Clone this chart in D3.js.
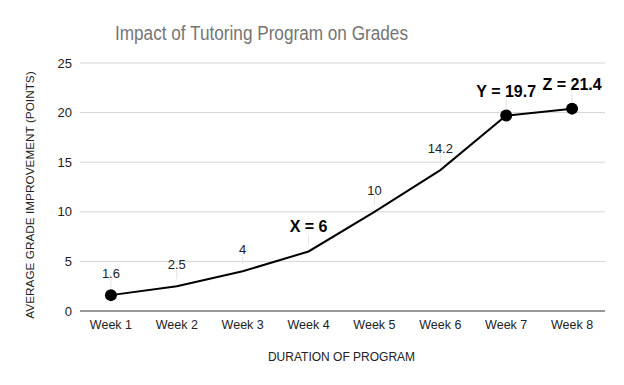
<!DOCTYPE html>
<html>
<head>
    <script src="https://d3js.org/d3.v7.min.js"></script>
    <style>
        body { margin: 0; background: #fff; }
        text { font-family: "Liberation Sans", Arial, sans-serif; }
    </style>
</head>
<body>
    <div id="chart"></div>
    <script>
        const weeks = ["Week 1", "Week 2", "Week 3", "Week 4", "Week 5", "Week 6", "Week 7", "Week 8"];
        const improvement = [1.6, 2.5, 4, 6, 10, 14.2, 19.7, 20.4];
        const pointLabels = ["1.6", "2.5", "4", "X = 6", "10", "14.2", "Y = 19.7", "Z = 21.4"];
        const boldLabel = [false, false, false, true, false, false, true, true];
        const dotted = [true, false, false, false, false, false, true, true];
        const yTicks = [0, 5, 10, 15, 20, 25];

        const width = 624, height = 385;
        const margin = { top: 63, right: 19, bottom: 74, left: 78 };

        const svg = d3.select("#chart").append("svg")
            .attr("width", width)
            .attr("height", height);

        const x = d3.scalePoint()
            .domain(weeks)
            .range([margin.left, width - margin.right])
            .padding(0.5);

        const y = d3.scaleLinear()
            .domain([0, 25])
            .range([height - margin.bottom, margin.top]);

        // grid lines
        svg.append("g")
            .selectAll("line")
            .data(yTicks.filter(d => d > 0))
            .join("line")
            .attr("x1", margin.left + 2)
            .attr("x2", width - margin.right)
            .attr("y1", d => y(d))
            .attr("y2", d => y(d))
            .attr("stroke", "#d4d4d4")
            .attr("stroke-width", 1);

        // baseline
        svg.append("line")
            .attr("x1", margin.left + 2)
            .attr("x2", width - margin.right)
            .attr("y1", y(0))
            .attr("y2", y(0))
            .attr("stroke", "#333")
            .attr("stroke-width", 1);

        // y tick labels
        svg.append("g")
            .selectAll("text")
            .data(yTicks)
            .join("text")
            .attr("x", margin.left - 6)
            .attr("y", d => y(d))
            .attr("dy", "0.35em")
            .attr("text-anchor", "end")
            .attr("font-size", 13)
            .attr("fill", "#222")
            .text(d => d);

        // x tick labels
        svg.append("g")
            .selectAll("text")
            .data(weeks)
            .join("text")
            .attr("x", d => x(d))
            .attr("y", y(0) + 18)
            .attr("text-anchor", "middle")
            .attr("font-size", 12.5)
            .attr("fill", "#222")
            .text(d => d);

        // title (rendered a bit narrow in the original)
        svg.append("text")
            .attr("x", 261.5)
            .attr("y", 40)
            .attr("text-anchor", "middle")
            .attr("font-size", 20)
            .attr("textLength", 293)
            .attr("lengthAdjust", "spacingAndGlyphs")
            .attr("fill", "#757575")
            .text("Impact of Tutoring Program on Grades");

        // axis titles
        svg.append("text")
            .attr("x", (margin.left + width - margin.right) / 2)
            .attr("y", 361)
            .attr("text-anchor", "middle")
            .attr("font-size", 12)
            .attr("fill", "#222")
            .text("DURATION OF PROGRAM");

        svg.append("text")
            .attr("transform", "translate(34,195) rotate(-90)")
            .attr("text-anchor", "middle")
            .attr("font-size", 11.8)
            .attr("fill", "#222")
            .text("AVERAGE GRADE IMPROVEMENT (POINTS)");

        const pts = weeks.map((w, i) => ({ w, v: improvement[i], label: pointLabels[i], bold: boldLabel[i], dot: dotted[i] }));

        // leader lines
        svg.append("g")
            .selectAll("line")
            .data(pts)
            .join("line")
            .attr("x1", d => x(d.w))
            .attr("x2", d => x(d.w))
            .attr("y1", d => y(d.v) - 7)
            .attr("y2", d => y(d.v) - 16)
            .attr("stroke", "#e2e2e2")
            .attr("stroke-width", 1);

        // line
        svg.append("path")
            .datum(pts)
            .attr("fill", "none")
            .attr("stroke", "#000")
            .attr("stroke-width", 2)
            .attr("d", d3.line().x(d => x(d.w)).y(d => y(d.v)));

        // dots
        svg.append("g")
            .selectAll("circle")
            .data(pts.filter(d => d.dot))
            .join("circle")
            .attr("cx", d => x(d.w))
            .attr("cy", d => y(d.v))
            .attr("r", 6)
            .attr("fill", "#000");

        // data labels
        svg.append("g")
            .selectAll("text")
            .data(pts)
            .join("text")
            .attr("x", d => x(d.w))
            .attr("y", d => y(d.v) - (d.bold ? 19 : 17))
            .attr("text-anchor", "middle")
            .attr("font-family", "Roboto, sans-serif")
            .attr("font-size", d => d.bold ? 16 : 13)
            .attr("font-weight", d => d.bold ? "bold" : "normal")
            .attr("fill", d => d.bold ? "#000" : "#222")
            .text(d => d.label);
    </script>
</body>
</html>
